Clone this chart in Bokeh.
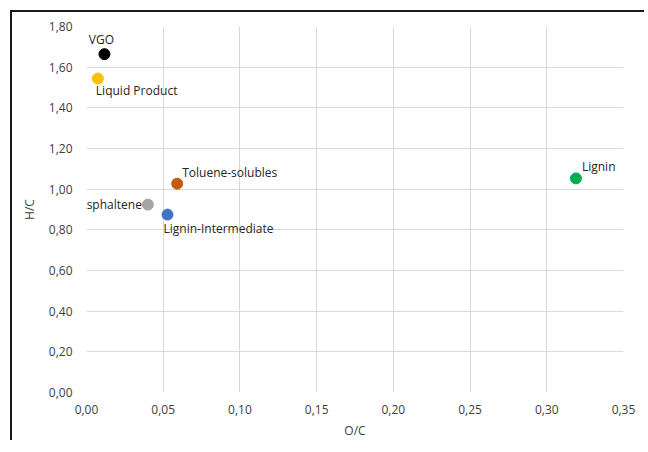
from bokeh.plotting import figure
from bokeh.models import ColumnDataSource, FixedTicker, CustomJSTickFormatter, Range1d, Label
from bokeh.embed import file_html
from bokeh.resources import INLINE

names = ["VGO", "Liquid Product", "Toluene-solubles", "Bio-Asphaltene", "Lignin-Intermediate", "Lignin"]
oc = [0.0117, 0.0074, 0.0591, 0.0400, 0.0528, 0.3190]
hc = [1.664, 1.544, 1.027, 0.924, 0.875, 1.053]
colors = ["#000000", "#FFC000", "#C55A11", "#A5A5A5", "#4472C4", "#00B050"]
x_ticks = [0.0, 0.05, 0.10, 0.15, 0.20, 0.25, 0.30, 0.35]
y_ticks = [0.0, 0.2, 0.4, 0.6, 0.8, 1.0, 1.2, 1.4, 1.6, 1.8]

# label placement (screen offsets / alignment)
lab_dx = [-3, -2, 5, -6, -4, 6]
lab_dy = [15, -12, 11, 0, -14, 12]
lab_align = ["center", "left", "left", "right", "left", "left"]

FONT = "Open Sans"
W, H = 634, 430
BL, BR, BT, BB = 74, 23, 14, 50

p = figure(width=W, height=H, output_backend="svg", toolbar_location=None,
           x_range=Range1d(0, 0.35), y_range=Range1d(0, 1.8),
           min_border_left=BL, min_border_right=BR, min_border_top=BT, min_border_bottom=BB)
p.styles = {"border-top": "2px solid #1a1a1a", "border-left": "2px solid #1a1a1a",
            "margin-left": "10px", "margin-top": "10px"}
p.outline_line_color = None
p.background_fill_color = "white"
p.border_fill_color = "white"

fmt = CustomJSTickFormatter(code="return tick.toFixed(2).replace('.', ',');")
p.xaxis.ticker = FixedTicker(ticks=x_ticks)
p.yaxis.ticker = FixedTicker(ticks=y_ticks)
p.xaxis.formatter = fmt
p.yaxis.formatter = fmt
for ax in (p.xaxis, p.yaxis):
    ax.axis_line_color = None
    ax.major_tick_line_color = None
    ax.minor_tick_line_color = None
    ax.major_tick_out = 0
    ax.major_tick_in = 0
    ax.minor_tick_out = 0
    ax.minor_tick_in = 0
    ax.major_label_text_font = FONT
    ax.major_label_text_font_size = "12px"
    ax.major_label_text_color = "#404040"
    ax.axis_label_text_font = FONT
    ax.axis_label_text_font_size = "12px"
    ax.axis_label_text_font_style = "normal"
    ax.axis_label_text_color = "#404040"
p.xaxis.axis_label = "O/C"
p.yaxis.axis_label = "H/C"
p.xaxis.major_label_standoff = 12
p.yaxis.major_label_standoff = 14
p.xaxis.axis_label_standoff = 5
p.yaxis.axis_label_standoff = 8
p.grid.grid_line_color = "#d9d9d9"
p.grid.grid_line_width = 1

src = ColumnDataSource(dict(x=oc, y=hc, color=colors))
p.scatter("x", "y", source=src, size=11, fill_color="color", line_color="color")

frame_w = W - BL - BR
x0, x1 = p.x_range.start, p.x_range.end
for xv, yv, nm, dx, dy, al in zip(oc, hc, names, lab_dx, lab_dy, lab_align):
    if al == "right":
        # label reaching past the frame's left edge: anchor in (frame-relative) screen units
        xs = (xv - x0) / (x1 - x0) * frame_w
        lab = Label(x=xs, x_units="screen", y=yv, text=nm, x_offset=dx, y_offset=dy,
                    text_align=al, text_baseline="middle",
                    text_font=FONT, text_font_size="12px", text_color="#262626")
    else:
        lab = Label(x=xv, y=yv, text=nm, x_offset=dx, y_offset=dy,
                    text_align=al, text_baseline="middle",
                    text_font=FONT, text_font_size="12px", text_color="#262626")
    p.add_layout(lab)

open("out.html", "w").write(file_html(p, INLINE))
